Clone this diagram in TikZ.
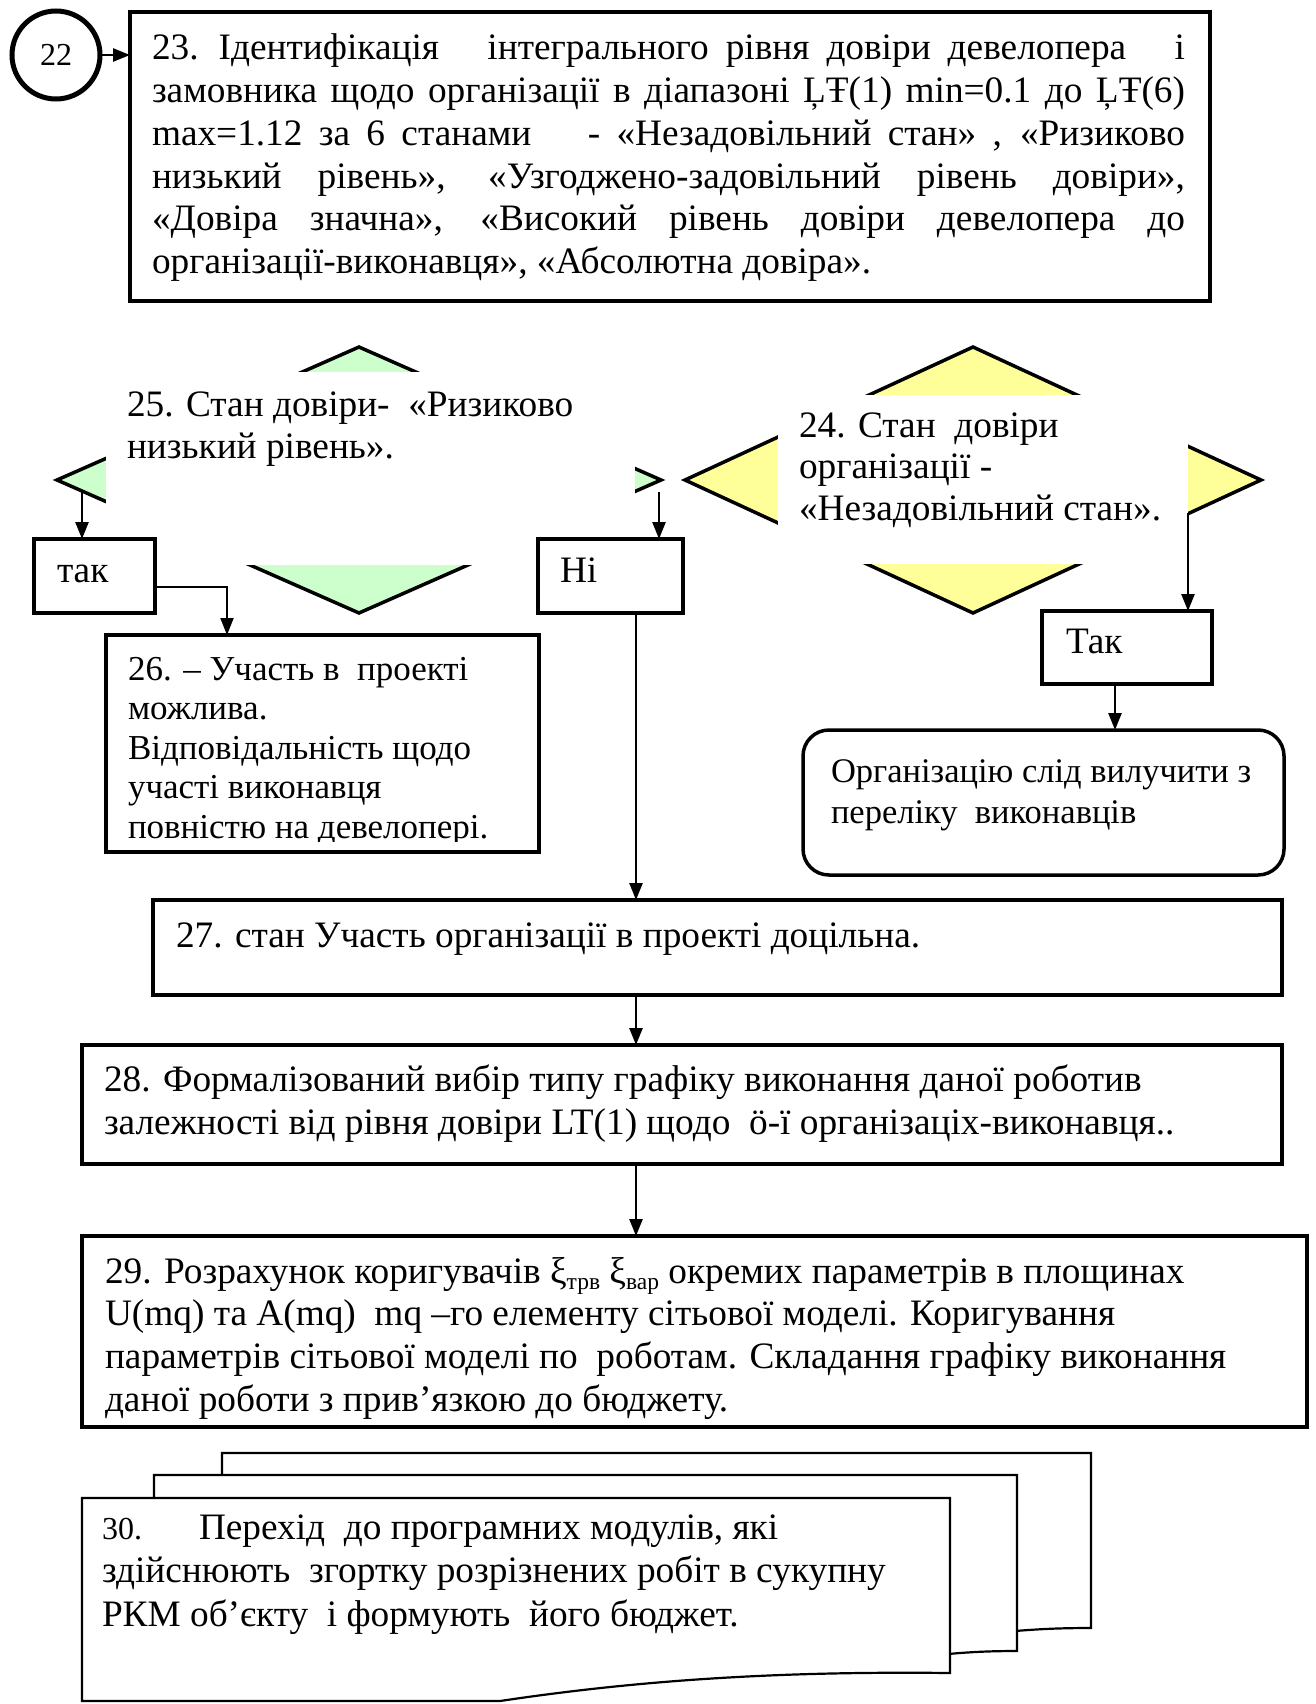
\documentclass[tikz,border=0pt]{standalone}
\usepackage{fontspec}
\setmainfont{Liberation Serif}
\usetikzlibrary{arrows.meta,shapes.geometric}

\definecolor{mintfill}{HTML}{CCFFCC}
\definecolor{lemonfill}{HTML}{FFFF99}

\newcommand\mainsz{\fontsize{37.3}{42.7}\selectfont}
\newcommand\jline[1]{\makebox[1033pt][s]{#1}}
\newcommand\sbs[1]{\raisebox{-0.35ex}{\fontsize{23.5}{23.5}\selectfont #1}}

\tikzset{
  box/.style={draw, rectangle, line width=3.5pt, inner sep=0pt, outer sep=0pt, anchor=north west},
  txt/.style={inner sep=0pt, outer sep=0pt, anchor=base west, font=\mainsz},
  cover/.style={fill=white, draw=none, rectangle, inner sep=0pt, outer sep=0pt, anchor=north west},
  decision/.style={draw, shape=diamond, line width=3.5pt, inner sep=0pt, outer sep=0pt},
  arr/.style={line width=2.6pt, -{Triangle[length=17pt,width=13pt]}},
  thinarr/.style={line width=2pt, -{Triangle[length=17pt,width=13pt]}},
  page/.style={draw, line width=2.2pt, fill=white, line join=miter}
}

\begin{document}
\begin{tikzpicture}[x=1pt, y=-1pt]
\useasboundingbox (0,0) rectangle (1315,1704);
\clip (0,0) rectangle (1315,1704);

% ---- connector from 22 and block 23 ----
\node[draw, circle, line width=5pt, minimum size=88pt, inner sep=0pt, outer sep=0pt,
      font=\fontsize{32}{32}\selectfont] (c22) at (56,55) {22};
\node[box, minimum width=1080pt, minimum height=289pt] (b23) at (130,12) {};
\node[txt] (t23) at (152,60) {\parbox[t]{1100pt}{\mainsz
  \jline{{\spaceskip=17pt\relax 23. Ідентифікація\hspace{0pt plus 1fill} інтегрального рівня довіри девелопера\hspace{0pt plus 1fill} і}}\\
  \jline{замовника щодо організації в діапазоні ĻŦ(1) min=0.1 до ĻŦ(6)}\\
  \jline{max=1.12 за 6 станами\hspace{40pt} - «Незадовільний стан» , «Ризиково}\\
  \jline{низький рівень», «Узгоджено-задовільний рівень довіри»,}\\
  \jline{«Довіра значна», «Високий рівень довіри девелопера до}\\
  організації-виконавця», «Абсолютна довіра».}};
\draw[arr] (c22.east) -- (c22.east -| b23.west);

% ---- decision 25 (green) ----
\node[decision, fill=mintfill, minimum width=604pt, minimum height=266pt] (d25) at (359,480) {};
\node[cover, minimum width=529pt, minimum height=193pt] (cv25) at (106,372) {};
\node[txt] (t25) at (127,416) {\parbox[t]{520pt}{\mainsz
  25. Стан довіри-\ \ «Ризиково\\
  низький рівень».}};

% ---- decision 24 (yellow) ----
\node[decision, fill=lemonfill, minimum width=576pt, minimum height=266pt] (d24) at (973,480) {};
\node[cover, minimum width=410pt, minimum height=169pt] (cv24) at (778,395) {};
\node[txt] (t24) at (799,437) {\parbox[t]{400pt}{\fontsize{37.3}{41.5}\selectfont
  24. Стан\ \ довіри\\
  організації -\\
  «Незадовільний стан».}};

% ---- answer boxes ----
\node[box, minimum width=121pt, minimum height=74pt] (tak) at (34,539) {};
\node[txt] (ttak) at (57,582) {так};
\node[box, minimum width=145pt, minimum height=74pt] (ni) at (538,539) {};
\node[txt] (tni) at (560,582) {Ні};
\node[box, minimum width=170pt, minimum height=73pt] (tak2) at (1042,611) {};
\node[txt] (ttak2) at (1066,653) {Так};

% ---- block 26 ----
\node[box, minimum width=433pt, minimum height=217pt] (b26) at (106,635) {};
\begin{scope}
  \clip (106,635) rectangle (539,841);
  \node[txt] (t26) at (128,680) {\parbox[t]{420pt}{\fontsize{35}{39.5}\selectfont
    26. – Участь в\ \ проекті\\
    можлива.\\
    Відповідальність щодо\\
    участі виконавця\\
    повністю на девелопері.}};
\end{scope}

% ---- exclusion box ----
\node[box, rounded corners=26pt, minimum width=481pt, minimum height=145pt] (rnd) at (803,730) {};
\node[txt] (trnd) at (831,782) {\parbox[t]{460pt}{\fontsize{34.5}{41.3}\selectfont
  Організацію слід вилучити з\\
  переліку\ \ виконавців}};

% ---- blocks 27, 28, 29 ----
\node[box, minimum width=1129pt, minimum height=95pt] (b27) at (153,900) {};
\node[txt] (t27) at (176,947) {27. стан Участь організації в проекті доцільна.};

\node[box, minimum width=1200pt, minimum height=119pt] (b28) at (82,1045) {};
\node[txt] (t28) at (104,1091) {\parbox[t]{1170pt}{\fontsize{37.3}{43.5}\selectfont
  28. Формалізований вибір типу графіку виконання даної роботив\\
  залежності від рівня довіри LT(1) щодо\ \ ö-ї організаціх-виконавця..}};

\node[box, line width=4.2pt, minimum width=1225pt, minimum height=191pt] (b29) at (82,1236) {};
\node[txt] (t29) at (105,1283) {\parbox[t]{1200pt}{\mainsz
  29. Розрахунок коригувачів ξ\sbs{трв} ξ\sbs{вар} окремих параметрів в площинах\\
  U(mq) та A(mq)\ \ mq –го елементу сітьової моделі. Коригування\\
  параметрів сітьової моделі по\ \ роботам. Складання графіку виконання\\
  даної роботи з прив’язкою до бюджету.}};

% ---- connectors ----
\coordinate (s25l) at (82,491);
\coordinate (s25r) at (659,492);
\coordinate (s24r) at (1188,513);
\coordinate (stak) at (155,587);
\coordinate (j26) at (227,600);
\coordinate (axis) at (636,0);
\coordinate (axr) at (1115,0);

\draw[arr] (s25l) -- (s25l |- tak.north);
\draw[arr] (s25r) -- (s25r |- ni.north);
\draw[arr] (s24r) -- (s24r |- tak2.north);
\draw[thinarr] (stak) -| (j26 |- b26.north);
\draw[arr] (tak2.south -| axr) -- (rnd.north -| axr);
\draw[arr] (ni.south -| axis) -- (b27.north -| axis);
\draw[arr] (b27.south -| axis) -- (b28.north -| axis);
\draw[arr] (b28.south -| axis) -- (b29.north -| axis);

% ---- block 30: stacked documents ----
\draw[page] (222,1480) -- (222,1453) -- (1091,1453) -- (1091,1628)
            .. controls (1060,1628) and (1040,1629) .. (1015,1631);
\draw[page] (154,1502) -- (154,1475) -- (1017,1475) -- (1017,1651)
            .. controls (990,1651) and (970,1652) .. (948,1654);
\draw[page] (82,1498) -- (950,1498) -- (950,1673)
            .. controls (780,1671) and (640,1680) .. (500,1701)
            -- (82,1701) -- cycle;
\node[txt] (t30) at (102,1539) {\parbox[t]{860pt}{\fontsize{37.3}{43.5}\selectfont
  \makebox[97pt][l]{\fontsize{32}{32}\selectfont 30.}Перехід\ \ до програмних модулів, які\\
  здійснюють\ \ згортку розрізнених робіт в сукупну\\
  РКМ об’єкту\ \ і формують\ \ його бюджет.}};

\end{tikzpicture}
\end{document}
